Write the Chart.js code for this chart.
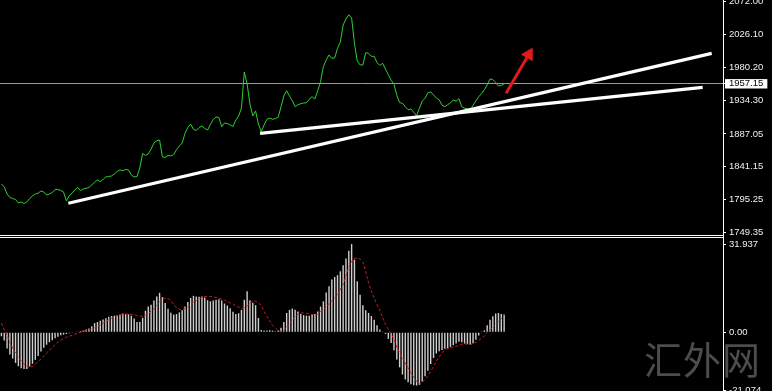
<!DOCTYPE html>
<html>
<head>
<meta charset="utf-8">
<script src="https://cdn.jsdelivr.net/npm/chart.js@4"></script>
<style>
  html, body { margin: 0; padding: 0; background: #000; }
  #wrap { position: relative; width: 772px; height: 391px; overflow: hidden; background: #000; }
  #top { position: absolute; left: 0; top: 0; }
  #bot { position: absolute; left: 0; top: 238px; }
  .sep { position: absolute; left: 0; width: 723px; height: 1px; background: #fff; }
  .vsep { position: absolute; left: 723px; top: 234px; width: 1px; height: 5px; background: #fff; }
  #wm { position: absolute; left: 644px; top: 338px; font-family: "Noto Sans CJK SC", sans-serif; font-size: 38px; line-height: 40px; color: #4c4c4c; letter-spacing: 1px; white-space: nowrap; }
</style>
</head>
<body>
<div id="wrap">
  <canvas id="top" width="772" height="235"></canvas>
  <div class="sep" style="top:235px"></div>
  <div class="sep" style="top:237px"></div>
  <div class="vsep"></div>
  <canvas id="bot" width="772" height="153"></canvas>
  <div id="wm">汇外网</div>
</div>
<script>
// ---- data ----
const closes = [
  1817.0, 1812.8, 1803.0, 1798.1, 1796.7, 1795.3, 1790.4, 1791.8, 1789.7, 1791.8,
  1796.7, 1800.2, 1803.0, 1804.0, 1807.2, 1805.8, 1801.6, 1803.0, 1805.1, 1809.3,
  1809.3, 1807.9, 1805.8, 1793.2, 1800.2, 1804.4, 1808.6, 1812.1, 1807.9, 1810.0,
  1811.0, 1812.1, 1815.6, 1819.8, 1822.6, 1820.2, 1823.3, 1826.8, 1827.5, 1828.2,
  1831.0, 1834.5, 1836.6, 1835.6, 1837.3, 1836.6, 1829.6, 1826.8, 1827.5, 1839.4,
  1859.7, 1856.9, 1859.0, 1865.9, 1874.3, 1877.6, 1878.5, 1854.8, 1854.1, 1856.9,
  1856.2, 1858.3, 1865.2, 1870.1, 1874.3, 1887.9, 1896.0, 1900.9, 1893.5, 1891.8,
  1896.0, 1898.1, 1894.6, 1892.5, 1900.2, 1907.2, 1910.7, 1910.0, 1897.1, 1902.3,
  1901.6, 1899.5, 1897.4, 1906.5, 1912.1, 1923.3, 1973.7, 1956.9, 1928.9, 1912.1,
  1919.1, 1900.9, 1890.2, 1899.5, 1907.5, 1909.3, 1907.5, 1908.3, 1910.3, 1925.1,
  1940.1, 1947.5, 1940.1, 1933.5, 1925.1, 1927.9, 1929.3, 1930.3, 1930.7, 1935.5,
  1939.1, 1935.9, 1947.5, 1960.1, 1981.1, 1990.5, 1997.5, 1992.8, 1993.3, 2006.8,
  2015.6, 2039.4, 2047.8, 2053.8, 2049.2, 2013.8, 1989.1, 1983.5, 1983.5, 2000.7,
  1999.8, 1995.6, 1995.6, 1986.7, 1983.0, 1985.8, 1977.9, 1969.9, 1962.1, 1956.5,
  1941.1, 1930.7, 1929.9, 1925.1, 1920.9, 1921.9, 1917.3, 1912.5, 1922.9, 1933.1,
  1936.9, 1944.7, 1945.7, 1941.5, 1937.3, 1934.9, 1927.1, 1925.1, 1927.9, 1930.3,
  1934.5, 1932.7, 1936.3, 1925.1, 1922.9, 1922.3, 1920.5, 1927.1, 1933.1, 1939.1,
  1943.3, 1948.9, 1955.5, 1963.9, 1963.2, 1959.0, 1954.1, 1954.8, 1957.15
];
const macdMain = [
  -1.45, -3.0, -5.9, -8.1, -9.5, -11.1, -12.3, -13.0, -13.3, -13.3,
  -12.4, -11.4, -10.0, -8.6, -7.0, -5.6, -4.5, -3.6, -2.9, -2.2,
  -1.6, -1.1, -0.85, -0.6, -0.4, -0.25, -0.15, 0.1, 0.4, 0.6,
  1.0, 1.4, 2.2, 3.3, 3.7, 4.2, 4.6, 5.1, 5.6, 5.9,
  6.0, 6.2, 6.4, 6.8, 6.6, 6.5, 6.0, 5.0, 3.7, 3.7,
  5.2, 7.8, 9.3, 10.0, 11.5, 13.0, 14.3, 12.7, 10.6, 8.5,
  7.1, 6.4, 6.6, 7.2, 8.0, 9.3, 11.0, 12.4, 13.2, 13.0,
  12.9, 13.0, 12.6, 11.6, 11.2, 11.5, 11.8, 12.0, 11.5, 10.4,
  9.7, 8.7, 7.4, 6.6, 6.9, 8.1, 11.8, 14.9, 11.6, 10.7,
  9.8, 5.2, 0.85, 0.6, 0.6, 0.7, 0.6, 0.35, 0.6, 1.6,
  3.7, 7.0, 8.1, 8.6, 8.2, 7.5, 6.6, 6.2, 6.0, 6.0,
  6.4, 6.6, 7.5, 9.3, 11.2, 14.4, 16.7, 19.1, 20.0, 20.7,
  22.1, 24.3, 26.7, 29.5, 31.937, 26.3, 18.5, 13.6, 9.8, 8.0,
  7.0, 5.9, 4.5, 2.5, 1.0, 0.1, -0.6, -2.4, -3.9, -6.5,
  -9.9, -12.7, -15.3, -17.1, -18.1, -18.8, -19.2, -19.3, -19.1, -17.8,
  -15.9, -13.9, -11.5, -9.3, -7.7, -6.9, -6.4, -6.0, -5.8, -5.3,
  -4.7, -4.1, -3.4, -3.6, -4.1, -4.3, -4.5, -4.0, -2.7, -1.2,
  0.1, 0.7, 2.5, 4.5, 5.8, 6.8, 7.0, 6.6, 6.4
];
const macdSignal = [
  3.3, 1.0, -1.1, -3.6, -5.8, -7.5, -9.1, -10.4, -11.5, -12.3,
  -12.7, -12.4, -11.7, -10.6, -9.7, -8.6, -7.5, -6.5, -5.4, -4.5,
  -3.6, -2.9, -2.3, -1.8, -1.45, -1.1, -0.7, -0.35, 0.0, 0.35,
  0.6, 0.85, 1.2, 1.6, 2.1, 2.5, 3.3, 3.9, 4.5, 5.1,
  5.6, 5.9, 6.3, 6.5, 6.6, 6.6, 6.5, 6.3, 6.0, 5.8,
  5.9, 6.3, 6.9, 7.6, 8.5, 9.7, 11.0, 12.1, 12.4, 12.2,
  11.5, 10.0, 8.8, 8.3, 8.2, 8.6, 9.3, 10.0, 10.9, 11.5,
  12.1, 12.7, 13.0, 13.0, 13.0, 12.8, 12.6, 12.3, 12.0, 11.6,
  11.1, 10.7, 10.3, 9.5, 9.1, 8.7, 8.8, 9.4, 10.6, 11.2,
  11.2, 10.6, 9.7, 7.6, 5.7, 4.1, 2.5, 1.6, 0.6, 0.1,
  0.6, 1.9, 3.1, 4.5, 5.7, 6.5, 6.9, 7.0, 6.9, 6.6,
  6.5, 6.4, 6.6, 7.6, 8.2, 9.3, 10.3, 11.4, 12.4, 13.5,
  15.5, 17.3, 20.3, 23.6, 25.7, 26.9, 26.8, 26.6, 25.5, 21.9,
  17.9, 14.9, 12.4, 10.0, 7.9, 5.2, 2.8, 1.0, -0.6, -2.5,
  -5.4, -7.4, -9.3, -11.1, -12.9, -14.7, -16.3, -17.8, -18.7, -18.2,
  -17.1, -15.9, -14.1, -12.3, -10.5, -8.9, -7.5, -6.4, -6.0, -5.7,
  -5.4, -5.1, -4.7, -4.3, -4.2, -4.3, -4.5, -4.1, -3.6, -3.0,
  -2.2, -1.45, 0.0, 0.85, 1.8, 3.0, 3.7, 5.0, 6.0
];
const lastPrice = 1957.15;
const priceTicks = [2072.00, 2026.10, 1980.20, 1957.15, 1934.30, 1887.05, 1841.15, 1795.25, 1749.35];
const macdTicks = [31.937, 0, -21.074];
const macdTickLabels = ['31.937', '0.00', '-21.074'];
// trend lines drawn by the analyst: [bar index, price]
const trendLineA = [[23.7, 1790.0], [251.5, 1999.8]];
const trendLineB = [[91.6, 1887.9], [248.3, 1952.3]];
const arrowUp = [[178.7, 1943.9], [186.7, 1998.2]];

// ---- view settings ----
const X_MIN = -0.5, X_MAX = 255.5;
const PRICE_MIN = 1745.6, PRICE_MAX = 2074.4;
const MACD_MIN = -21.28, MACD_MAX = 34.15;
const AXIS_W = 49;
const tickFont = { family: 'Liberation Sans', size: 9.5 };

const toXY = arr => arr.map(p => ({ x: p[0], y: p[1] }));

new Chart(document.getElementById('top'), {
  type: 'line',
  data: {
    datasets: [
      { data: toXY(arrowUp), borderColor: '#e01a1a', borderWidth: 3, pointRadius: [0, 7],
        pointStyle: 'triangle', rotation: 30, pointBackgroundColor: '#e01a1a', pointBorderColor: '#e01a1a', pointBorderWidth: 1 },
      { data: toXY(trendLineA), borderColor: '#ffffff', borderWidth: 3.3, pointRadius: 0 },
      { data: toXY(trendLineB), borderColor: '#ffffff', borderWidth: 3.3, pointRadius: 0 },
      { data: closes.map((v, i) => ({ x: i, y: v })), borderColor: '#2fcf2f', borderWidth: 1, pointRadius: 0, tension: 0 }
    ]
  },
  options: {
    responsive: false, animation: false, maintainAspectRatio: false,
    layout: { padding: 0, autoPadding: false },
    plugins: { legend: { display: false }, tooltip: { enabled: false } },
    scales: {
      x: { type: 'linear', display: false, min: X_MIN, max: X_MAX },
      y: {
        position: 'right', min: PRICE_MIN, max: PRICE_MAX,
        afterBuildTicks: s => { s.ticks = priceTicks.map(v => ({ value: v })); },
        afterFit: s => { s.width = AXIS_W; s.paddingTop = 0; s.paddingBottom = 0; },
        border: { color: '#ffffff', width: 1 },
        grid: {
          drawOnChartArea: true, drawTicks: true, tickLength: 3,
          color: c => (c.tick && c.tick.value === lastPrice) ? '#9c9c9c' : 'rgba(0,0,0,0)',
          tickColor: '#ffffff', lineWidth: 1
        },
        ticks: {
          autoSkip: false, padding: 3, font: tickFont,
          color: c => (c.tick && c.tick.value === lastPrice) ? '#000000' : '#f0f0f0',
          showLabelBackdrop: true,
          backdropColor: c => (c.tick && c.tick.value === lastPrice) ? '#ffffff' : 'rgba(0,0,0,0)',
          backdropPadding: { left: 4, right: 4, top: -1, bottom: -1 },
          callback: v => Number(v).toFixed(2)
        }
      }
    }
  }
});

new Chart(document.getElementById('bot'), {
  type: 'bar',
  data: {
    datasets: [
      { type: 'line', data: macdSignal.map((v, i) => ({ x: i, y: v })), borderColor: '#c81e1e',
        borderWidth: 1, borderDash: [3, 2], pointRadius: 0, tension: 0 },
      { type: 'bar', data: macdMain.map((v, i) => ({ x: i, y: v })), backgroundColor: '#cfcfcf',
        barThickness: 1.4, inflateAmount: 0, borderWidth: 0 }
    ]
  },
  options: {
    responsive: false, animation: false, maintainAspectRatio: false,
    layout: { padding: 0, autoPadding: false },
    plugins: { legend: { display: false }, tooltip: { enabled: false } },
    scales: {
      x: { type: 'linear', display: false, min: X_MIN, max: X_MAX, offset: false },
      y: {
        position: 'right', min: MACD_MIN, max: MACD_MAX,
        afterBuildTicks: s => { s.ticks = macdTicks.map(v => ({ value: v })); },
        afterFit: s => { s.width = AXIS_W; s.paddingTop = 0; s.paddingBottom = 0; },
        border: { color: '#ffffff', width: 1 },
        grid: { drawOnChartArea: false, drawTicks: true, tickLength: 3, tickColor: '#ffffff' },
        ticks: {
          autoSkip: false, padding: 3, font: tickFont, color: '#f0f0f0',
          callback: (v, idx) => macdTickLabels[idx]
        }
      }
    }
  }
});
</script>
</body>
</html>
